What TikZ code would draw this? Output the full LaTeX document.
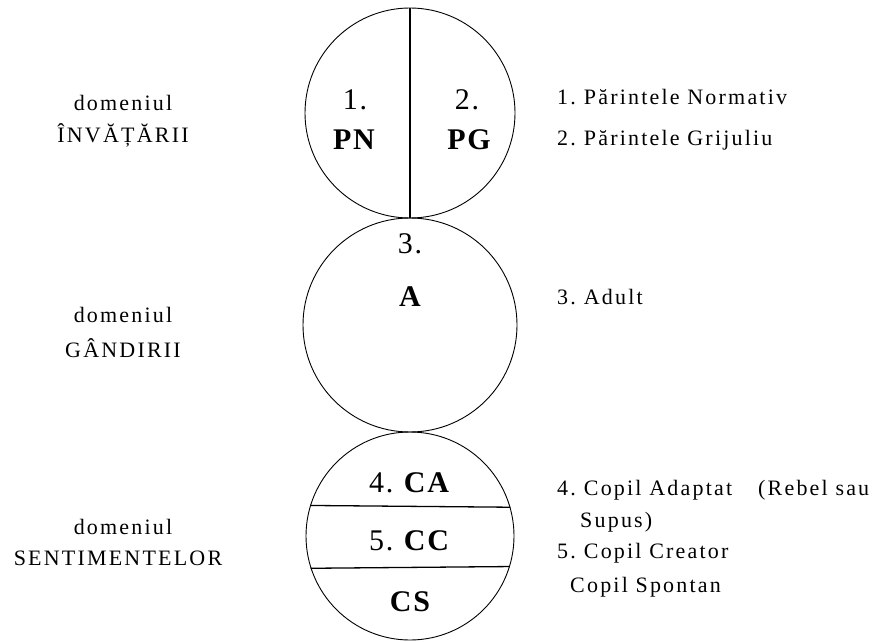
\documentclass[tikz,border=0pt]{standalone}
\usepackage{fontspec}
\setmainfont{Liberation Serif}
\newfontfamily\wideserif{Liberation Serif}[LetterSpace=10]
\newfontfamily\labelserif{Liberation Serif}[LetterSpace=6]
\usepackage{tikz}

\begin{document}
\begin{tikzpicture}[x=1pt,y=-1pt,
    ring/.style={circle,draw,line width=0.9pt,inner sep=0pt,minimum size=#1},
    split/.style={line width=1.3pt},
    tag/.style={inner sep=0pt,font=\labelserif\fontsize{30}{32}\selectfont},
    realm/.style={inner sep=0pt,font=\wideserif\fontsize{22}{24}\selectfont},
    note/.style={inner sep=0pt,anchor=west,font=\wideserif\fontsize{22}{24}\selectfont}]
    \useasboundingbox (0,0) rectangle (883,642);

    % the three circles
    \node[ring=210pt] (top) at (410,113) {};
    \node[ring=214pt] (mid) at (410,325) {};
    \node[ring=208pt] (low) at (410,536) {};

    % inner partitions
    \draw[split] (top.north) -- (top.south);
    \draw[split] (low.16.2) -- (low.163.8);
    \draw[split] (low.-17.9) -- (low.-162.1);

    % labels inside the circles
    \node[tag] (pnnum) at (355,100) {1.};
    \node[tag] (pn)    at (354,140) {\bfseries PN};
    \node[tag] (pgnum) at (467,100) {2.};
    \node[tag] (pg)    at (469,140) {\bfseries PG};
    \node[tag] (anum)  at (410,244) {3.};
    \node[tag] (a)     at (410,297) {\bfseries A};
    \node[tag] (ca)    at (410,483) {4.\hspace{-2pt} \textbf{CA}};
    \node[tag] (cc)    at (410,541) {5.\hspace{-2pt} \textbf{CC}};
    \node[tag] (cs)    at (410,602) {\bfseries CS};

    % domains on the left
    \node[realm] (dom1)  at (123,103) {domeniul};
    \node[realm] (name1) at (123,135) {ÎNVĂȚĂRII};
    \node[realm] (dom2)  at (123,315) {domeniul};
    \node[realm] (name2) at (123,348) {GÂNDIRII};
    \node[realm] (dom3)  at (123,527) {domeniul};
    \node[realm] (name3) at (118,558) {SENTIMENTELOR};

    % legend on the right
    \node[note] (pnnote) at (557,97)  {1.\hspace{8pt}Părintele Normativ};
    \node[note] (pgnote) at (557,140) {2.\hspace{8pt}Părintele Grijuliu};
    \node[note] (anote)  at (557,297) {3.\hspace{8pt}Adult};
    \node[note] (canote) at (557,490) {4.\hspace{8pt}Copil Adaptat\hspace{26pt}(Rebel sau};
    \node[note] (sunote) at (580,522) {Supus)};
    \node[note] (ccnote) at (557,553) {5.\hspace{8pt}Copil Creator};
    \node[note] (csnote) at (570,587) {Copil Spontan};
  \end{tikzpicture}
\end{document}
